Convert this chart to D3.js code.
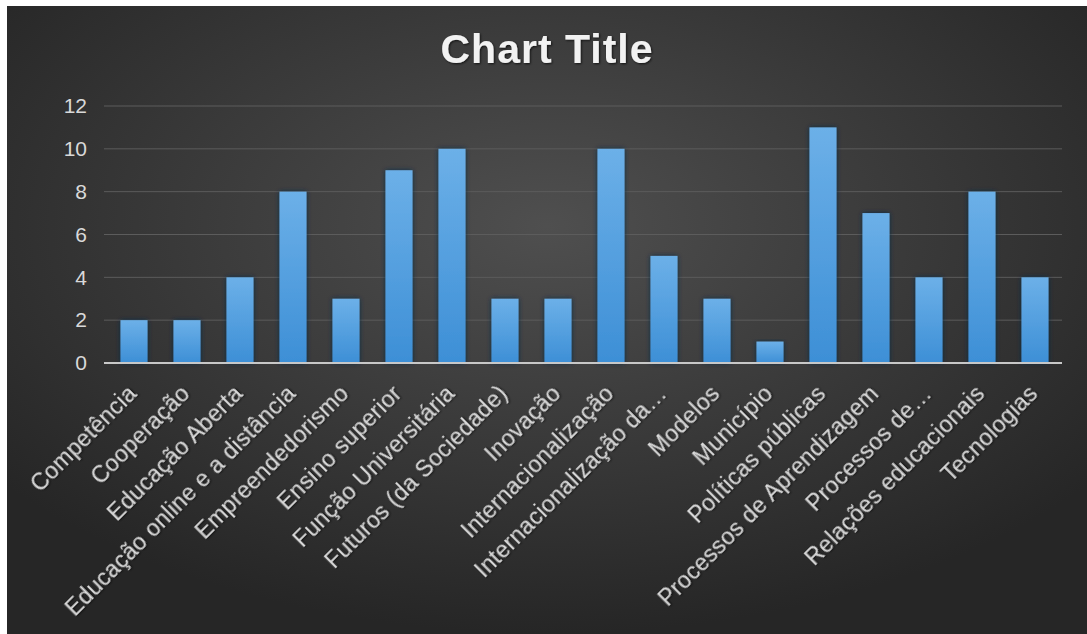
<!DOCTYPE html>
<html>
<head>
    <style>
        body { margin: 0; background: #fff; }
        svg { display: block; font-family: "Liberation Sans", Arial, sans-serif; }
        .grid line { stroke: #5c5c5c; stroke-width: 1; }
        .yaxis text { fill: #d9d9d9; font-size: 21px; }
        .xlabel { fill: #d9d9d9; font-size: 23px; letter-spacing: 0.3px; }
        .title { fill: #f2f2f2; font-size: 41px; font-weight: bold; letter-spacing: 1px; }
    </style>
</head>
<body>
<svg width="1087" height="634"></svg>
<script src="https://cdn.jsdelivr.net/npm/d3@7"></script>
<script>

var categories = ["Competência", "Cooperação", "Educação Aberta", "Educação online e a distância",
    "Empreendedorismo", "Ensino superior", "Função Universitária", "Futuros (da Sociedade)",
    "Inovação", "Internacionalização", "Internacionalização da…", "Modelos", "Município",
    "Políticas públicas", "Processos de Aprendizagem", "Processos de…", "Relações educacionais",
    "Tecnologias"];
var values = [2, 2, 4, 8, 3, 9, 10, 3, 3, 10, 5, 3, 1, 11, 7, 4, 8, 4];
var yTicks = [0, 2, 4, 6, 8, 10, 12];

var svg = d3.select("svg");
var defs = svg.append("defs");

var bg = defs.append("radialGradient").attr("id", "bg")
    .attr("cx", "50%").attr("cy", "35%").attr("r", "65%");
bg.append("stop").attr("offset", "0%").attr("stop-color", "#4f4f4f");
bg.append("stop").attr("offset", "100%").attr("stop-color", "#262626");

var barGrad = defs.append("linearGradient").attr("id", "bar")
    .attr("x1", 0).attr("y1", 0).attr("x2", 0).attr("y2", 1);
barGrad.append("stop").attr("offset", "0%").attr("stop-color", "#6cb0e8");
barGrad.append("stop").attr("offset", "100%").attr("stop-color", "#3d8fd6");

var shadow = defs.append("filter").attr("id", "shadow")
    .attr("x", "-30%").attr("y", "-10%").attr("width", "160%").attr("height", "120%");
shadow.append("feDropShadow").attr("dx", 0).attr("dy", 0).attr("stdDeviation", 2.5)
    .attr("flood-color", "#0c2a4a").attr("flood-opacity", 0.9);

var txtShadow = defs.append("filter").attr("id", "tshadow");
txtShadow.append("feDropShadow").attr("dx", 1).attr("dy", 1).attr("stdDeviation", 1)
    .attr("flood-color", "#000").attr("flood-opacity", 0.7);

svg.append("rect")
    .attr("x", 7).attr("y", 6)
    .attr("width", 1080).attr("height", 628)
    .attr("fill", "url(#bg)");

var x = d3.scaleBand()
    .domain(categories)
    .range([107.5, 1061.5])
    .paddingInner(0.49)
    .paddingOuter(0.245);

var y = d3.scaleLinear()
    .domain([0, 12])
    .range([363, 106]);

svg.append("text")
    .attr("class", "title")
    .attr("x", 547)
    .attr("y", 63)
    .attr("text-anchor", "middle")
    .attr("filter", "url(#tshadow)")
    .text("Chart  Title");

// gridlines
svg.append("g")
    .attr("class", "grid")
    .selectAll("line")
    .data(yTicks.slice(1))
    .enter().append("line")
      .attr("x1", 104).attr("x2", 1062)
      .attr("y1", function(d) { return y(d); })
      .attr("y2", function(d) { return y(d); });

var yAxis = svg.append("g")
    .attr("class", "yaxis")
    .attr("transform", "translate(104,0)")
    .call(d3.axisLeft(y).tickValues(yTicks).tickSize(0).tickPadding(17));
yAxis.select(".domain").remove();
yAxis.selectAll("text").attr("font-family", null).attr("font-size", null);

svg.append("g")
    .selectAll("rect")
    .data(values)
    .enter().append("rect")
      .attr("x", function(d, i) { return x(categories[i]); })
      .attr("y", function(d) { return y(d); })
      .attr("width", x.bandwidth())
      .attr("height", function(d) { return y(0) - y(d); })
      .attr("fill", "url(#bar)")
      .attr("filter", "url(#shadow)");

svg.append("line")
    .attr("x1", 104).attr("x2", 1062)
    .attr("y1", y(0)).attr("y2", y(0))
    .attr("stroke", "#c8c8c8")
    .attr("stroke-width", 2);

svg.append("g")
    .selectAll("text")
    .data(categories)
    .enter().append("text")
      .attr("class", "xlabel")
      .attr("text-anchor", "end")
      .attr("filter", "url(#tshadow)")
      .attr("transform", function(d) {
          var cx = x(d) + x.bandwidth() / 2 + 4;
          return "translate(" + cx + ",395) rotate(-45)";
      })
      .text(function(d) { return d; });

</script>
</body>
</html>
